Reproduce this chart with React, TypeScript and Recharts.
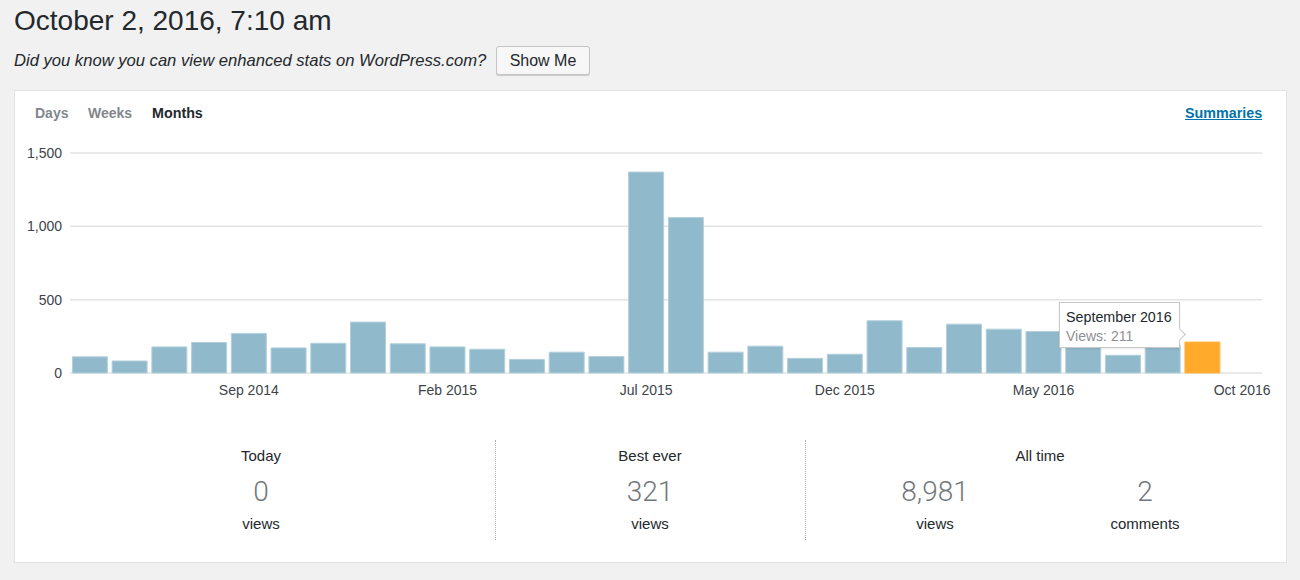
import React from "react";
import { BarChart, Bar, XAxis, YAxis, CartesianGrid, Tooltip, Cell } from "recharts";

const months = [
  "May 2014", "Jun 2014", "Jul 2014", "Aug 2014", "Sep 2014", "Oct 2014", "Nov 2014", "Dec 2014",
  "Jan 2015", "Feb 2015", "Mar 2015", "Apr 2015", "May 2015", "Jun 2015", "Jul 2015", "Aug 2015",
  "Sep 2015", "Oct 2015", "Nov 2015", "Dec 2015", "Jan 2016", "Feb 2016", "Mar 2016", "Apr 2016",
  "May 2016", "Jun 2016", "Jul 2016", "Aug 2016", "Sep 2016", "Oct 2016",
];
const views = [
  110, 82, 178, 208, 270, 171, 203, 347,
  199, 178, 162, 92, 142, 112, 1370, 1060,
  142, 183, 100, 128, 356, 174, 333, 299,
  283, 260, 121, 190, 211, 0,
];
const xTicks = ["Sep 2014", "Feb 2015", "Jul 2015", "Dec 2015", "May 2016", "Oct 2016"];
const yTicks = [0, 500, 1000, 1500];
const highlightMonth = "Sep 2016";
const fullMonthNames: Record<string, string> = {
  Jan: "January", Feb: "February", Mar: "March", Apr: "April", May: "May", Jun: "June",
  Jul: "July", Aug: "August", Sep: "September", Oct: "October", Nov: "November", Dec: "December",
};

const data = months.map((m, i) => ({ month: m, views: views[i] }));

const FONT = '"Liberation Sans", Arial, Helvetica, sans-serif';

function TipContent(props: any) {
  const { active, payload } = props;
  if (!active || !payload || !payload.length) return null;
  const p = payload[0].payload;
  const [mon, yr] = String(p.month).split(" ");
  return (
    <div
      style={{
        position: "relative",
        background: "#fff",
        border: "1px solid #c8c8c8",
        boxShadow: "0 1px 2px rgba(0,0,0,0.08)",
        padding: "5px 7px 2px 6px",
        fontFamily: FONT,
        width: 106,
        boxSizing: "content-box",
        lineHeight: "18.5px",
      }}
    >
      <div style={{ fontSize: 14.3, color: "#23282d", whiteSpace: "nowrap" }}>
        {fullMonthNames[mon]} {yr}
      </div>
      <div style={{ fontSize: 14, color: "#8c8f94", whiteSpace: "nowrap" }}>
        Views: {p.views}
      </div>
      <div
        style={{
          position: "absolute",
          right: -5,
          top: 27,
          width: 8,
          height: 8,
          background: "#fff",
          borderTop: "1px solid #c8c8c8",
          borderRight: "1px solid #c8c8c8",
          transform: "rotate(45deg)",
        }}
      />
    </div>
  );
}

const abs = (s: React.CSSProperties): React.CSSProperties => ({ position: "absolute", ...s });

export default function App() {
  const hiIndex = months.indexOf(highlightMonth);
  return (
    <div
      style={abs({
        left: 0,
        top: 0,
        width: 1300,
        height: 580,
        background: "#f1f1f1",
        overflow: "hidden",
        fontFamily: FONT,
        color: "#23282d",
      })}
    >
      <div style={abs({ left: 14, top: 5, fontSize: 28, whiteSpace: "nowrap", color: "#23282d" })}>
        October 2, 2016, 7:10 am
      </div>
      <div style={abs({ left: 14, top: 51, fontSize: 16.6, fontStyle: "italic", whiteSpace: "nowrap" })}>
        Did you know you can view enhanced stats on WordPress.com?
      </div>
      <div
        style={abs({
          left: 496,
          top: 46,
          width: 92,
          height: 27,
          border: "1px solid #c4c4c4",
          borderRadius: 3,
          background: "#f7f7f7",
          boxShadow: "0 1px 0 #ccc",
          fontSize: 16,
          lineHeight: "27px",
          textAlign: "center",
          color: "#23282d",
        })}
      >
        Show Me
      </div>

      <div
        style={abs({
          left: 14,
          top: 90,
          width: 1271,
          height: 471,
          background: "#fff",
          border: "1px solid #e2e2e2",
        })}
      />

      <div style={abs({ left: 35, top: 105, fontSize: 14, fontWeight: 700, color: "#82878c" })}>Days</div>
      <div style={abs({ left: 88, top: 105, fontSize: 14, fontWeight: 700, color: "#82878c" })}>Weeks</div>
      <div style={abs({ left: 152, top: 105, fontSize: 14.3, fontWeight: 700, color: "#23282d" })}>Months</div>
      <div
        style={abs({
          left: 1185,
          top: 105,
          fontSize: 14.3,
          fontWeight: 700,
          color: "#0073aa",
          textDecoration: "underline",
        })}
      >
        Summaries
      </div>

      <div style={abs({ left: 0, top: 140 })}>
        <BarChart
          width={1300}
          height={270}
          data={data}
          margin={{ top: 13, right: 38, left: 10, bottom: 7 }}
          barCategoryGap="6%"
        >
          <CartesianGrid vertical={false} stroke="#e3e3e3" strokeWidth={1.5} />
          <XAxis
            dataKey="month"
            ticks={xTicks}
            interval={0}
            axisLine={false}
            tickLine={false}
            height={30}
            dy={4}
            tick={{ fill: "#3c434a", fontSize: 14, fontFamily: FONT }}
          />
          <YAxis
            domain={[0, 1500]}
            ticks={yTicks}
            width={60}
            axisLine={false}
            tickLine={false}
            tickFormatter={(v: number) => v.toLocaleString("en-US")}
            tick={{ fill: "#3c434a", fontSize: 14, fontFamily: FONT }}
          />
          <Tooltip
            defaultIndex={hiIndex}
            active={true}
            cursor={false}
            isAnimationActive={false}
            position={{ x: 1059, y: 162 }}
            content={<TipContent />}
            wrapperStyle={{ outline: "none" }}
          />
          <Bar dataKey="views" isAnimationActive={false} stroke="#b3d0dd" strokeWidth={1}>
            {data.map((d, i) => (
              <Cell key={d.month} fill={i === hiIndex ? "#ffaa2b" : "#90b9cb"} stroke={i === hiIndex ? "#ffb648" : "#b3d0dd"} />
            ))}
          </Bar>
        </BarChart>
      </div>

      <div style={abs({ left: 495, top: 440, height: 100, borderLeft: "1px dotted #b0b0b0" })} />
      <div style={abs({ left: 805, top: 440, height: 100, borderLeft: "1px dotted #b0b0b0" })} />

      {[
        { cx: 261, label: "Today", value: "0", unit: "views" },
        { cx: 650, label: "Best ever", value: "321", unit: "views" },
        { cx: 1040, label: "All time", value: null, unit: null },
        { cx: 935, label: null, value: "8,981", unit: "views" },
        { cx: 1145, label: null, value: "2", unit: "comments" },
      ].map((c, i) => (
        <React.Fragment key={i}>
          {c.label && (
            <div style={abs({ left: c.cx - 100, width: 200, top: 447, textAlign: "center", fontSize: 15, color: "#23282d" })}>
              {c.label}
            </div>
          )}
          {c.value && (
            <div
              style={abs({
                left: c.cx - 100,
                width: 200,
                top: 475,
                textAlign: "center",
                fontSize: 28,
                fontWeight: 300,
                fontFamily: '"Roboto", "Lato", sans-serif',
                color: "#72777c",
              })}
            >
              {c.value}
            </div>
          )}
          {c.unit && (
            <div style={abs({ left: c.cx - 100, width: 200, top: 515, textAlign: "center", fontSize: 15, color: "#23282d" })}>
              {c.unit}
            </div>
          )}
        </React.Fragment>
      ))}
    </div>
  );
}
